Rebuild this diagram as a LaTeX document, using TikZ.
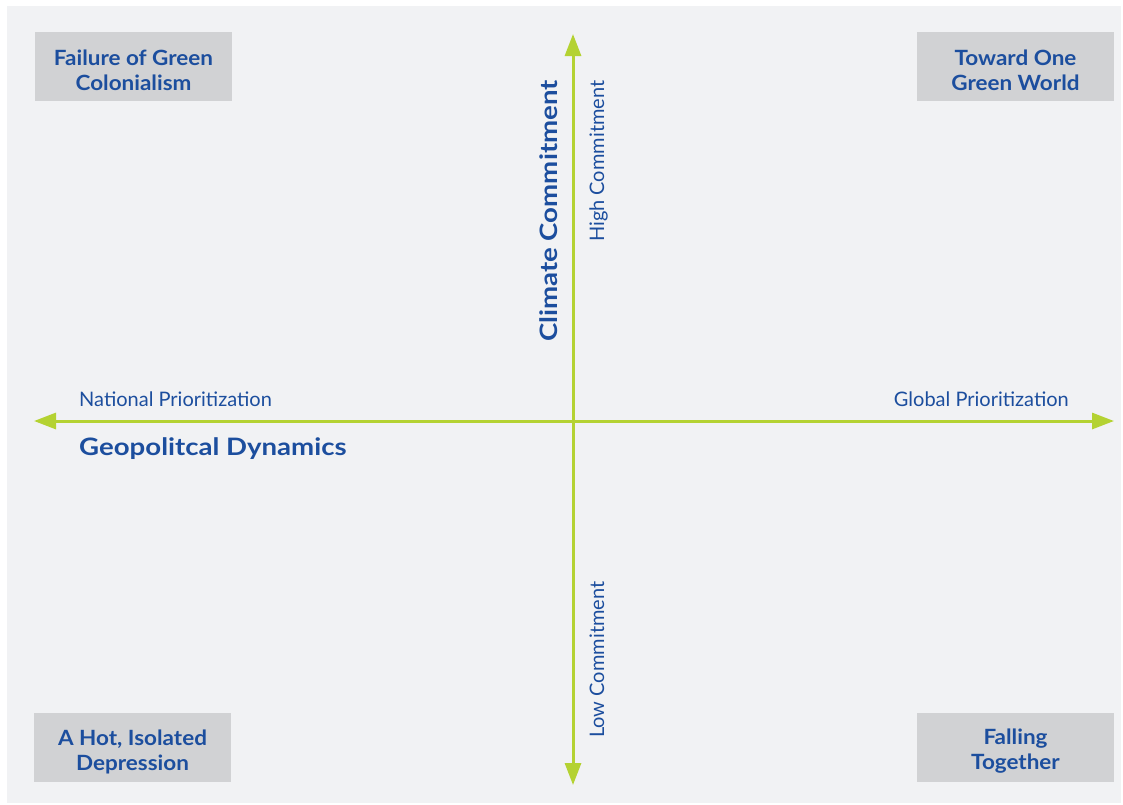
\documentclass[tikz,border=0pt]{standalone}
\usepackage{fontspec}
\setmainfont{Lato}
\usetikzlibrary{arrows.meta}
\definecolor{panel}{RGB}{241,242,244}
\definecolor{boxgray}{RGB}{209,210,212}
\definecolor{txtblue}{RGB}{28,78,158}
\definecolor{axisgreen}{RGB}{180,210,50}
\tikzset{
  scenariobox/.style={fill=boxgray, minimum width=197pt, minimum height=69pt, inner sep=0pt},
  scenariotext/.style={text=txtblue, align=center, inner sep=0pt, yshift=-4pt, font=\fontsize{21}{25}\selectfont\bfseries\addfontfeature{FakeStretch=1.07}},
  axis/.style={draw=axisgreen, line width=3pt, -{Triangle[length=22pt,width=16pt]}},
  poletext/.style={text=txtblue, inner sep=0pt, font=\fontsize{20}{24}\selectfont},
  axistitle/.style={text=txtblue, inner sep=0pt, font=\fontsize{24}{28}\selectfont\bfseries\addfontfeature{FakeStretch=1.15}}
}
\begin{document}
\begin{tikzpicture}[x=1pt,y=-1pt]
\useasboundingbox (0,0) rectangle (1123,804);
\fill[white] (0,0) rectangle (1123,804);
\fill[panel] (7,6) rectangle (1121,803);
% axis end points
\coordinate (L) at (34,421);
\coordinate (R) at (1114,421);
\coordinate (T) at (573,34);
\coordinate (B) at (573,785);
\coordinate (C) at (573,421);
\draw[axis] (C) -- (L);
\draw[axis] (C) -- (R);
\draw[axis] (C) -- (T);
\draw[axis] (C) -- (B);
% scenario boxes
\node[scenariobox] (tl) at (133.5,66.5) {};
\node[scenariotext] (tlt) at (tl.center) {Failure of Green\\Colonialism};
\node[scenariobox] (tr) at (1015.5,66.5) {};
\node[scenariotext] (trt) at (tr.center) {Toward One\\Green World};
\node[scenariobox] (bl) at (132.5,747.5) {};
\node[scenariotext] (blt) at (bl.center) {A Hot, Isolated\\Depression};
\node[scenariobox] (br) at (1015.5,747.5) {};
\node[scenariotext] (brt) at (br.center) {Falling\\Together};
% axis labels
\node[poletext, anchor=base west] (np) at (79,406) {National Prioritization};
\node[poletext, anchor=base east] (gp) at (1069,406) {Global Prioritization};
\node[axistitle, anchor=base west] (gd) at (79,455) {Geopolitcal Dynamics};
\node[axistitle, anchor=base west, rotate=90] (cc) at (557,342) {Climate Commitment};
\node[poletext, anchor=base west, rotate=90] (hc) at (604,242) {High Commitment};
\node[poletext, anchor=base west, rotate=90] (lc) at (604,738) {Low Commitment};
\end{tikzpicture}
\end{document}
